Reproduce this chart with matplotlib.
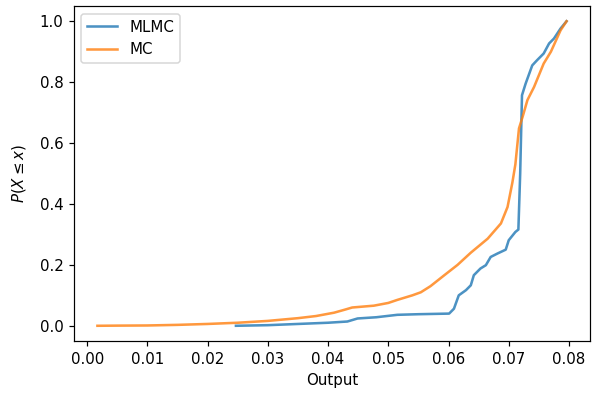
import numpy as np
import matplotlib.pyplot as plt

# empirical CDF points for the two estimators
mlmc_x = [0.0247, 0.0300, 0.0350, 0.0400, 0.0432, 0.0449, 0.0480, 0.0515, 0.0550,
          0.0601, 0.0609, 0.0617, 0.0629, 0.0637, 0.0642, 0.0653, 0.0662, 0.0670,
          0.0681, 0.0695, 0.0700, 0.0711, 0.0716, 0.0719, 0.0722, 0.0728, 0.0739,
          0.0747, 0.0758, 0.0767, 0.0775, 0.0786, 0.0796]
mlmc_p = [0.000, 0.002, 0.006, 0.010, 0.014, 0.024, 0.028, 0.036, 0.038,
          0.040, 0.056, 0.100, 0.117, 0.133, 0.166, 0.188, 0.199, 0.226,
          0.237, 0.250, 0.281, 0.308, 0.316, 0.500, 0.757, 0.795, 0.855,
          0.872, 0.894, 0.927, 0.943, 0.976, 1.000]

mc_x = [0.0017, 0.0050, 0.0100, 0.0150, 0.0200, 0.0250, 0.0300, 0.0350, 0.0380,
        0.0410, 0.0428, 0.0440, 0.0476, 0.0500, 0.0515, 0.0540, 0.0554, 0.0570,
        0.0593, 0.0615, 0.0637, 0.0665, 0.0687, 0.0698, 0.0706, 0.0711, 0.0717,
        0.0723, 0.0731, 0.0742, 0.0758, 0.0770, 0.0786, 0.0796]
mc_p = [0.000, 0.0005, 0.001, 0.003, 0.006, 0.010, 0.016, 0.025, 0.032,
        0.043, 0.053, 0.060, 0.066, 0.075, 0.085, 0.100, 0.110, 0.130,
        0.166, 0.200, 0.240, 0.286, 0.336, 0.390, 0.470, 0.530, 0.648,
        0.686, 0.741, 0.784, 0.861, 0.900, 0.970, 1.000]

dpi = 108
fig = plt.figure(figsize=(599 / dpi, 393 / dpi), dpi=dpi)
ax = fig.add_axes([0.1235, 0.1323, 0.8615, 0.8524])

ax.plot(mlmc_x, mlmc_p, label='MLMC', lw=1.7, alpha=0.8)
ax.plot(mc_x, mc_p, label='MC', lw=1.7, alpha=0.8)

ax.set_xlabel('Output')
ax.set_ylabel(r'$P(X \leq x)$', labelpad=8)
ax.legend(loc='upper left')

fig.savefig('out.png', dpi=dpi)
